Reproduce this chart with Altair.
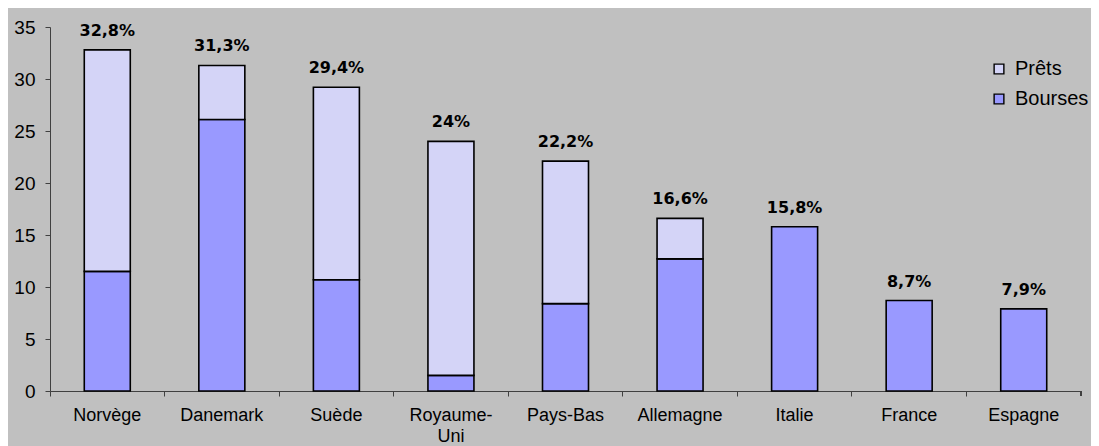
import altair as alt
import pandas as pd

countries = ["Norvège", "Danemark", "Suède", "Royaume-Uni", "Pays-Bas",
             "Allemagne", "Italie", "France", "Espagne"]
bourses = [11.5, 26.1, 10.7, 1.5, 8.4, 12.7, 15.8, 8.7, 7.9]
prets = [21.3, 5.2, 18.5, 22.5, 13.7, 3.9, 0.0, 0.0, 0.0]
total_labels = ["32,8%", "31,3%", "29,4%", "24%", "22,2%", "16,6%", "15,8%", "8,7%", "7,9%"]
series = ["Prêts", "Bourses"]
series_colors = ["#D4D4F7", "#9999FF"]
y_ticks = [0, 5, 10, 15, 20, 25, 30, 35]

rows = []
for c, b, p in zip(countries, bourses, prets):
    rows.append({"pays": c, "type": "Bourses", "valeur": b, "ordre": 0})
    if p > 0:
        rows.append({"pays": c, "type": "Prêts", "valeur": p, "ordre": 1})
df = pd.DataFrame(rows)
tot = pd.DataFrame({
    "pays": countries,
    "total": [b + p for b, p in zip(bourses, prets)],
    "label": total_labels,
})

FONT = "Liberation Sans"
W, H = 1031, 364
AXC = "#404040"

x_enc = alt.X(
    "pays:N", sort=countries, title=None,
    scale=alt.Scale(paddingInner=0, paddingOuter=0),
    axis=alt.Axis(
        labelAngle=0, bandPosition=0, labelFont=FONT, labelFontSize=18,
        labelColor="black", labelPadding=10, labelLineHeight=21,
        labelExpr="datum.value == 'Royaume-Uni' ? ['Royaume-', 'Uni'] : datum.value",
        tickSize=5, tickColor=AXC, domainColor=AXC, grid=False,
    ),
)

bars = alt.Chart(df).mark_bar(size=46, stroke="black", strokeWidth=1.6).encode(
    x=x_enc,
    y=alt.Y(
        "valeur:Q", stack="zero", title=None,
        scale=alt.Scale(domain=[0, 35], nice=False),
        axis=alt.Axis(
            values=y_ticks, labelFont=FONT, labelFontSize=19, labelColor="black",
            labelPadding=10, tickSize=5, tickColor=AXC, domainColor=AXC, grid=False,
        ),
    ),
    color=alt.Color(
        "type:N",
        scale=alt.Scale(domain=series, range=series_colors),
        legend=alt.Legend(
            title=None, orient="none", legendX=939, legendY=32,
            symbolType="square", symbolSize=95, symbolStrokeColor="black",
            symbolStrokeWidth=1.4, symbolOpacity=1, labelFont=FONT,
            labelFontSize=20, labelColor="black", rowPadding=10, labelOffset=6,
        ),
    ),
    order=alt.Order("ordre:Q"),
)

labels = alt.Chart(tot).mark_text(
    baseline="bottom", dy=-11, fontWeight="bold", fontSize=16,
    font="DejaVu Sans", color="black"
).encode(
    x=alt.X("pays:N", sort=countries),
    y=alt.Y("total:Q"),
    text="label:N",
)

end_tick = alt.Chart(tot).mark_rule(color=AXC).encode(
    x=alt.value(W), y=alt.value(H), y2=alt.value(H + 5)
)

chart = alt.layer(bars, labels, end_tick).properties(
    width=W, height=H,
    background="#C0C0C0",
    padding={"left": 42, "top": 19, "right": 10, "bottom": 55},
    autosize=alt.AutoSizeParams(type="none"),
).configure_view(stroke=None)

chart.save("out.html", embed_options={"renderer": "svg", "actions": False})
